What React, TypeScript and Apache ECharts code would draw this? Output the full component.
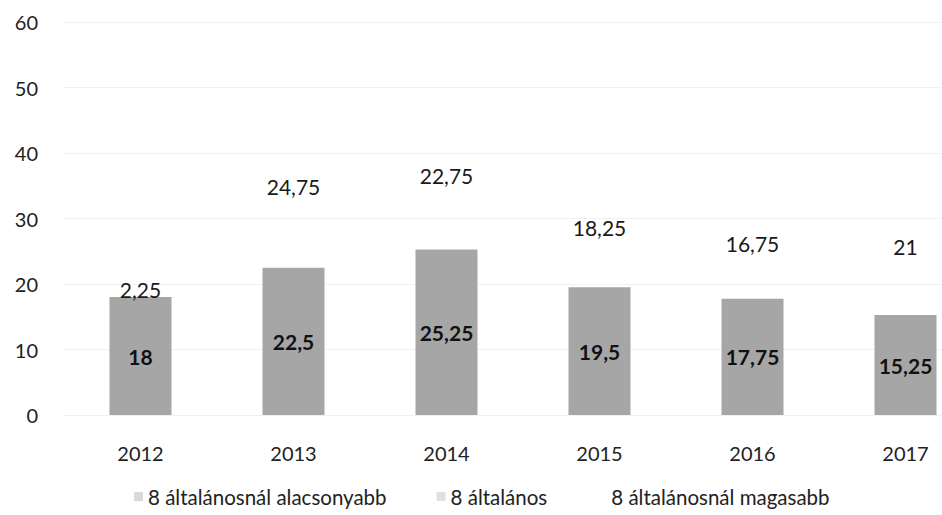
import React, { useEffect, useRef } from 'react';
import * as echarts from 'echarts';

const years = ['2012', '2013', '2014', '2015', '2016', '2017'];
const alacsonyabb = [18, 22.5, 25.25, 19.5, 17.75, 15.25];
const altalanos = [2.25, 24.75, 22.75, 18.25, 16.75, 21];
const magasabb: number[] = [];
const seriesNames = ['8 általánosnál alacsonyabb', '8 általános', '8 általánosnál magasabb'];
const yMin = 0;
const yMax = 60;
const yStep = 10;

const FONT = 'Lato, "Open Sans", sans-serif';
const fmt = (p: any) => String(p.value).replace('.', ',');

export default function App() {
  const ref = useRef<HTMLDivElement>(null);
  useEffect(() => {
    if (!ref.current) return;
    const chart = echarts.init(ref.current, undefined, { renderer: 'svg' });
    chart.setOption({
      animation: false,
      backgroundColor: '#ffffff',
      textStyle: { fontFamily: FONT },
      grid: { left: 64, top: 22, width: 918, height: 393, outerBoundsMode: 'none', containLabel: false },
      legend: {
        left: 129,
        top: 481,
        itemWidth: 9,
        itemHeight: 9,
        itemGap: 50,
        icon: 'rect',
        textStyle: { fontFamily: FONT, fontSize: 20.5, color: '#222' },
        data: [
          { name: seriesNames[0], itemStyle: { color: '#d9d9d9' } },
          { name: seriesNames[1], itemStyle: { color: '#e0e0e0' } },
          { name: seriesNames[2], itemStyle: { color: '#ffffff' } },
        ],
      },
      xAxis: {
        type: 'category',
        data: years,
        axisLine: { show: false },
        axisTick: { show: false },
        axisLabel: { margin: 28, fontSize: 20, color: '#222', fontFamily: FONT },
      },
      yAxis: {
        type: 'value',
        min: yMin,
        max: yMax,
        interval: yStep,
        axisLine: { show: false },
        axisTick: { show: false },
        axisLabel: { margin: 26, fontSize: 20, color: '#222', fontFamily: FONT },
        splitLine: { lineStyle: { color: '#f1f1f1', width: 1 } },
      },
      series: [
        {
          name: seriesNames[0],
          type: 'bar',
          stack: 'total',
          barWidth: 62,
          data: alacsonyabb,
          itemStyle: { color: '#a6a6a6' },
          label: {
            show: true,
            position: 'inside',
            formatter: fmt,
            fontSize: 21,
            fontWeight: 'bold',
            color: '#111',
            fontFamily: FONT,
          },
        },
        {
          name: seriesNames[1],
          type: 'bar',
          stack: 'total',
          barWidth: 62,
          data: altalanos,
          itemStyle: { color: 'rgba(255,255,255,0)' },
          label: {
            show: true,
            position: 'inside',
            formatter: fmt,
            fontSize: 21,
            color: '#1a1a1a',
            fontFamily: FONT,
          },
        },
        {
          name: seriesNames[2],
          type: 'bar',
          stack: 'total',
          barWidth: 62,
          data: magasabb,
          itemStyle: { color: '#ffffff' },
        },
      ],
    });
    return () => chart.dispose();
  }, []);
  return (
    <div
      ref={ref}
      style={{ position: 'fixed', left: 0, top: 0, width: 942, height: 515, background: '#fff' }}
    />
  );
}
